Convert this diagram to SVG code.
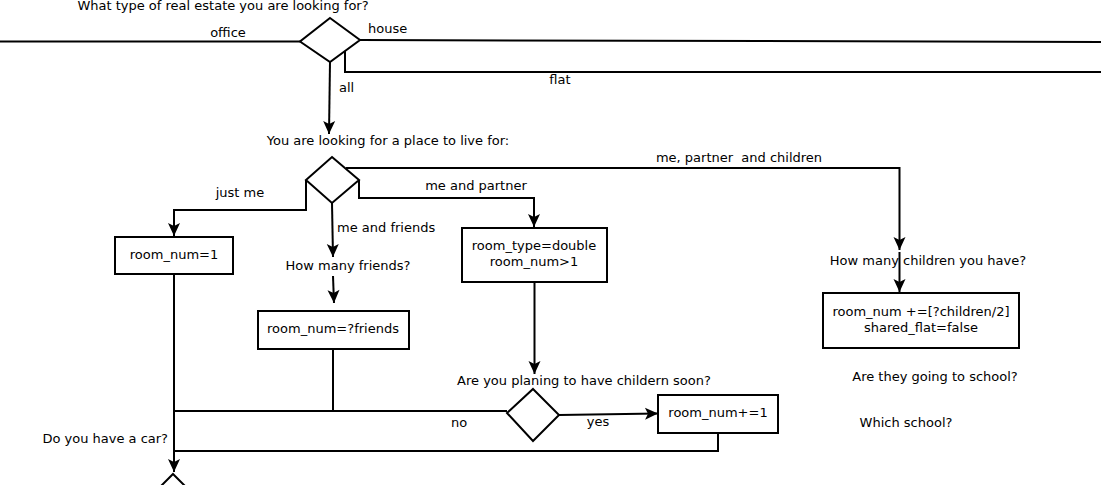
<svg xmlns="http://www.w3.org/2000/svg" width="1101" height="485" viewBox="0 0 1101 485">
<style>
text{font-family:"DejaVu Sans","Liberation Sans",sans-serif;font-size:13px;fill:#000;white-space:pre}
.m{text-anchor:middle}
.e{text-anchor:end}
.ln{fill:none;stroke:#000;stroke-width:2}
.arr{marker-end:url(#ah)}
.box{fill:#fff;stroke:#000;stroke-width:2}
</style>
<defs>
<marker id="ah" markerUnits="userSpaceOnUse" markerWidth="14" markerHeight="12" refX="13" refY="6" orient="auto" overflow="visible">
<path d="M0,0 L13,6 L0,12 L3,6 z" fill="#000"/>
</marker>
</defs>
<rect width="1101" height="485" fill="#fff"/>
<g id="connectors">
<path class="ln" d="M0,41.5 H300"/>
<path class="ln" d="M360,40 L1101,42"/>
<path class="ln" d="M345,51 V72 H1101"/>
<path class="ln arr" d="M330,62 L329,134"/>
<path class="ln arr" d="M306,180 V210 H174 V236"/>
<path class="ln arr" d="M332,203 L333,257"/>
<path class="ln arr" d="M333,276 L334,303"/>
<path class="ln arr" d="M359,180 V198 H534 V227"/>
<path class="ln arr" d="M346,168 H899.5 V250"/>
<path class="ln arr" d="M899.5,252 V292"/>
<path class="ln arr" d="M534.5,282 V374"/>
<path class="ln arr" d="M174,274 V472"/>
<path class="ln" d="M333,349 V411"/>
<path class="ln" d="M174,411 H507"/>
<path class="ln arr" d="M559,415 L658,413.5"/>
<path class="ln" d="M718,432 V451 H174"/>
</g>
<g id="q1">
<text x="223" y="10" class="m">What type of real estate you are looking for?</text>
<polygon class="box" points="330,18 360,40 330,62 300,41.5"/>
</g>
<g id="labels">
<text x="228" y="37" class="m">office</text>
<text x="368" y="33">house</text>
<text x="560" y="84" class="m">flat</text>
<text x="339" y="92">all</text>
<text x="240" y="197" class="m">just me</text>
<text x="476" y="190" class="m">me and partner</text>
<text x="337" y="232">me and friends</text>
<text x="739" y="162" class="m">me, partner  and children</text>
<text x="459" y="427" class="m">no</text>
<text x="598" y="426" class="m">yes</text>
</g>
<g id="q2">
<text x="388" y="145" class="m">You are looking for a place to live for:</text>
<polygon class="box" points="332,157 359,180 332,203 306,180"/>
</g>
<g id="n-room1">
<rect class="box" x="115" y="237" width="118" height="37"/>
<text x="174" y="259" class="m">room_num=1</text>
</g>
<g id="q-friends">
<text x="348" y="270" class="m">How many friends?</text>
</g>
<g id="n-friends">
<rect class="box" x="258" y="311" width="151" height="38"/>
<text x="333" y="333" class="m">room_num=?friends</text>
</g>
<g id="n-double">
<rect class="box" x="462" y="228" width="145" height="54"/>
<text x="534" y="250" class="m">room_type=double</text>
<text x="534" y="266" class="m">room_num&gt;1</text>
</g>
<g id="q-childsoon">
<text x="584" y="385" class="m">Are you planing to have childern soon?</text>
<polygon class="box" points="533,389 559,415 533,441 507,413"/>
</g>
<g id="n-plus1">
<rect class="box" x="658" y="395" width="120" height="38"/>
<text x="718" y="417" class="m">room_num+=1</text>
</g>
<g id="q-children">
<text x="928" y="265" class="m">How many children you have?</text>
</g>
<g id="n-children">
<rect class="box" x="823" y="293" width="196" height="55"/>
<text x="921" y="316" class="m">room_num +=[?children/2]</text>
<text x="921" y="332" class="m">shared_flat=false</text>
</g>
<g id="q-school">
<text x="935" y="381" class="m">Are they going to school?</text>
</g>
<g id="q-which">
<text x="906" y="427" class="m">Which school?</text>
</g>
<g id="q-car">
<text x="168" y="443" class="e">Do you have a car?</text>
<polygon class="box" points="173,474 199,500 173,526 147,500"/>
</g>
</svg>
